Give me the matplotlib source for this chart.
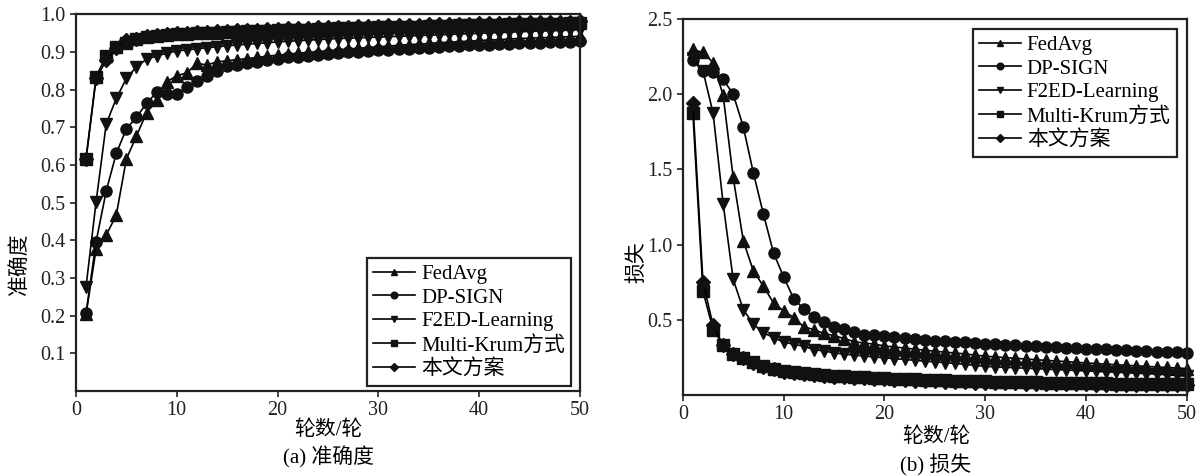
# accuracy / loss curves for five aggregation schemes
import numpy as np
import matplotlib
matplotlib.use('Agg')
import matplotlib.pyplot as plt

plt.rcParams['font.family'] = ['Liberation Serif', 'Noto Sans CJK SC']
plt.rcParams['axes.unicode_minus'] = False

rounds = np.arange(1, 51)
names = ['FedAvg', 'DP-SIGN', 'F2ED-Learning', 'Multi-Krum方式', '本文方案']
markers = ['^', 'o', 'v', 's', 'D']

# (a) accuracy
acc_fedavg = [0.204, 0.377, 0.414, 0.467, 0.616, 0.677, 0.739, 0.773, 0.821, 0.837,
              0.845, 0.870, 0.866, 0.874, 0.877, 0.880, 0.883, 0.886, 0.889, 0.892,
              0.894, 0.897, 0.899, 0.901, 0.903, 0.906, 0.908, 0.910, 0.912, 0.914,
              0.916, 0.918, 0.920, 0.921, 0.923, 0.925, 0.926, 0.928, 0.929, 0.931,
              0.932, 0.933, 0.935, 0.936, 0.937, 0.938, 0.939, 0.940, 0.941, 0.942]
acc_dpsign = [0.207, 0.397, 0.531, 0.631, 0.696, 0.727, 0.764, 0.793, 0.789, 0.789,
              0.807, 0.822, 0.837, 0.851, 0.862, 0.866, 0.871, 0.875, 0.879, 0.883,
              0.886, 0.888, 0.891, 0.893, 0.895, 0.897, 0.899, 0.901, 0.903, 0.905,
              0.906, 0.908, 0.909, 0.911, 0.912, 0.914, 0.915, 0.916, 0.918, 0.919,
              0.920, 0.921, 0.922, 0.923, 0.924, 0.925, 0.926, 0.927, 0.928, 0.930]
acc_f2ed = [0.277, 0.503, 0.709, 0.777, 0.830, 0.861, 0.881, 0.890, 0.897, 0.903,
            0.906, 0.909, 0.912, 0.914, 0.917, 0.919, 0.921, 0.923, 0.925, 0.927,
            0.929, 0.930, 0.932, 0.933, 0.935, 0.936, 0.937, 0.938, 0.939, 0.940,
            0.941, 0.942, 0.943, 0.944, 0.945, 0.946, 0.947, 0.948, 0.949, 0.950,
            0.951, 0.952, 0.953, 0.954, 0.955, 0.956, 0.957, 0.958, 0.959, 0.960]
acc_krum = [0.617, 0.835, 0.890, 0.914, 0.925, 0.934, 0.939, 0.943, 0.946, 0.948,
            0.949, 0.950, 0.951, 0.952, 0.953, 0.954, 0.955, 0.956, 0.957, 0.958,
            0.959, 0.960, 0.960, 0.961, 0.962, 0.963, 0.963, 0.964, 0.965, 0.966,
            0.966, 0.967, 0.968, 0.968, 0.969, 0.970, 0.970, 0.971, 0.971, 0.972,
            0.973, 0.973, 0.974, 0.974, 0.975, 0.975, 0.976, 0.976, 0.977, 0.977]
acc_ours = [0.617, 0.830, 0.878, 0.910, 0.932, 0.935, 0.942, 0.945, 0.948, 0.951,
            0.952, 0.953, 0.954, 0.955, 0.957, 0.958, 0.959, 0.960, 0.961, 0.962,
            0.963, 0.964, 0.965, 0.966, 0.967, 0.967, 0.968, 0.969, 0.970, 0.970,
            0.971, 0.972, 0.972, 0.973, 0.974, 0.974, 0.975, 0.975, 0.976, 0.977,
            0.977, 0.978, 0.978, 0.979, 0.979, 0.980, 0.980, 0.981, 0.981, 0.982]

# (b) loss
loss_fedavg = [2.297, 2.277, 2.210, 1.993, 1.446, 1.025, 0.825, 0.723, 0.612, 0.559,
               0.515, 0.453, 0.435, 0.409, 0.395, 0.375, 0.355, 0.345, 0.338, 0.326,
               0.319, 0.312, 0.305, 0.298, 0.291, 0.285, 0.279, 0.273, 0.265, 0.258,
               0.253, 0.248, 0.244, 0.239, 0.235, 0.230, 0.226, 0.222, 0.217, 0.213,
               0.209, 0.205, 0.201, 0.197, 0.194, 0.190, 0.186, 0.183, 0.179, 0.176]
loss_dpsign = [2.226, 2.155, 2.148, 2.098, 2.000, 1.783, 1.477, 1.202, 0.945, 0.785,
               0.641, 0.572, 0.519, 0.484, 0.455, 0.438, 0.420, 0.402, 0.397, 0.390,
               0.383, 0.377, 0.372, 0.367, 0.362, 0.358, 0.354, 0.350, 0.346, 0.342,
               0.339, 0.335, 0.332, 0.328, 0.325, 0.322, 0.318, 0.315, 0.312, 0.309,
               0.306, 0.303, 0.300, 0.297, 0.294, 0.291, 0.289, 0.286, 0.283, 0.280]
loss_f2ed = [2.240, 2.155, 1.876, 1.273, 0.768, 0.568, 0.471, 0.413, 0.382, 0.351,
             0.338, 0.324, 0.302, 0.293, 0.280, 0.272, 0.265, 0.259, 0.253, 0.247,
             0.242, 0.236, 0.231, 0.225, 0.220, 0.215, 0.210, 0.204, 0.197, 0.190,
             0.187, 0.184, 0.181, 0.178, 0.175, 0.172, 0.169, 0.166, 0.163, 0.160,
             0.157, 0.154, 0.151, 0.148, 0.145, 0.142, 0.139, 0.134, 0.130, 0.125]
loss_krum = [1.876, 0.690, 0.435, 0.335, 0.275, 0.247, 0.218, 0.191, 0.175, 0.160,
             0.152, 0.145, 0.139, 0.134, 0.129, 0.125, 0.121, 0.117, 0.114, 0.111,
             0.108, 0.106, 0.103, 0.101, 0.099, 0.097, 0.095, 0.093, 0.092, 0.090,
             0.089, 0.087, 0.086, 0.085, 0.084, 0.083, 0.082, 0.081, 0.080, 0.079,
             0.078, 0.077, 0.076, 0.075, 0.075, 0.074, 0.073, 0.072, 0.072, 0.071]
loss_ours = [1.938, 0.752, 0.464, 0.331, 0.271, 0.243, 0.214, 0.187, 0.170, 0.154,
             0.146, 0.139, 0.133, 0.127, 0.122, 0.118, 0.114, 0.110, 0.106, 0.103,
             0.100, 0.097, 0.095, 0.093, 0.091, 0.089, 0.087, 0.085, 0.083, 0.081,
             0.080, 0.078, 0.077, 0.076, 0.075, 0.074, 0.073, 0.072, 0.071, 0.070,
             0.069, 0.068, 0.068, 0.067, 0.066, 0.066, 0.065, 0.065, 0.064, 0.064]

acc = [acc_fedavg, acc_dpsign, acc_f2ed, acc_krum, acc_ours]
loss = [loss_fedavg, loss_dpsign, loss_f2ed, loss_krum, loss_ours]

fig = plt.figure(figsize=(12, 4.76), dpi=100)
ax1 = fig.add_axes([0.0633, 0.1786, 0.42, 0.791])
ax2 = fig.add_axes([0.569, 0.1702, 0.42, 0.790])

for ax, data in ((ax1, acc), (ax2, loss)):
    for ys, name, m in zip(data, names, markers):
        ax.plot(rounds, ys, color='black', lw=1.2, marker=m,
                ms=8 if m != 'D' else 7, mfc='#111111', mec='#111111', label=name,
                clip_on=False)
    ax.set_xlim(0, 50)
    ax.set_xticks([0, 10, 20, 30, 40, 50])
    ax.tick_params(direction='out', length=4, width=1.2, labelsize=14.5, colors='#222222')
    for sp in ax.spines.values():
        sp.set_linewidth(1.6)
        sp.set_color('#222222')

ax1.set_ylim(0, 1.0)
ax1.set_yticks(np.arange(1, 11) / 10)
ax2.set_ylim(0, 2.5)
ax2.set_yticks([0.5, 1.0, 1.5, 2.0, 2.5])

leg_kw = dict(loc='upper left', borderaxespad=0, fontsize=15, fancybox=False,
              edgecolor='#222222', framealpha=1, handlelength=2.0, handletextpad=0.3,
              labelspacing=0.2, markerscale=0.6, borderpad=0.3)
l1 = ax1.legend(bbox_to_anchor=(0.577, 0.353), **leg_kw)
l2 = ax2.legend(bbox_to_anchor=(0.575, 0.973), **leg_kw)
for lg in (l1, l2):
    lg.get_frame().set_linewidth(1.6)

fig.text(0.0165, 0.446, '准确度', rotation=90, ha='center', va='center', fontsize=15)
fig.text(0.531, 0.45, '损失', rotation=90, ha='center', va='center', fontsize=15)
fig.text(0.274, 0.097, '轮数/轮', ha='center', va='center', fontsize=15)
fig.text(0.274, 0.040, '(a) 准确度', ha='center', va='center', fontsize=15)
fig.text(0.780, 0.082, '轮数/轮', ha='center', va='center', fontsize=15)
fig.text(0.780, 0.023, '(b) 损失', ha='center', va='center', fontsize=15)

plt.savefig('out.png', dpi=100)
